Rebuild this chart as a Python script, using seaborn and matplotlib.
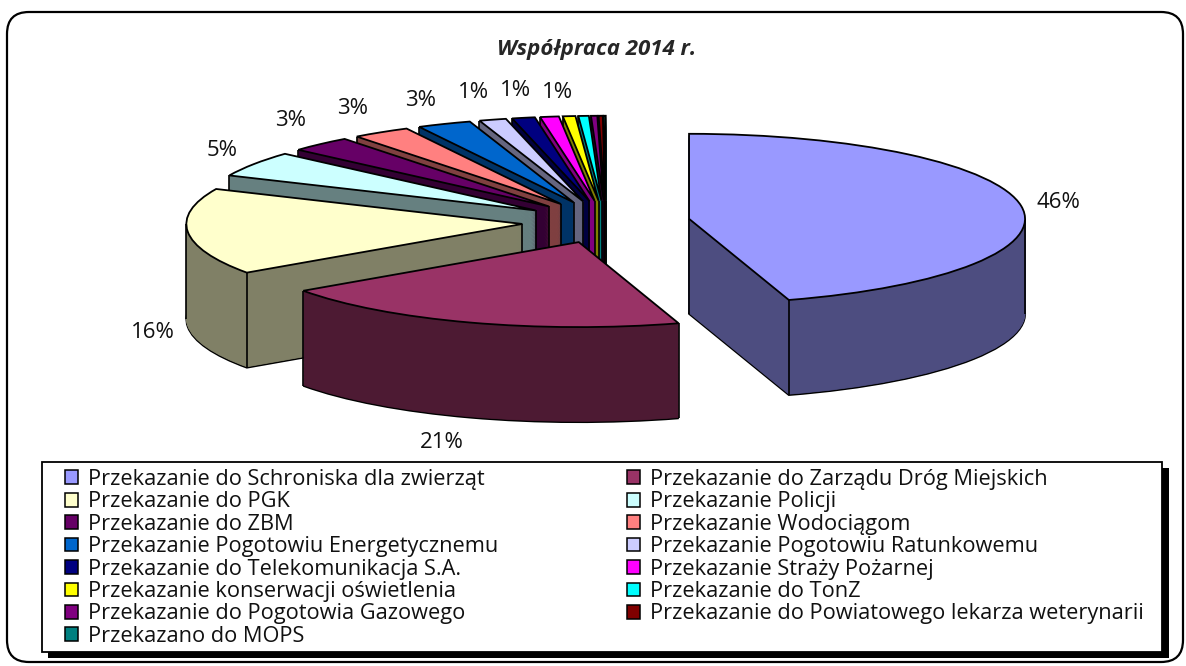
import numpy as np
import matplotlib
matplotlib.use("Agg")
import matplotlib.pyplot as plt
import seaborn as sns
from matplotlib.patches import FancyBboxPatch, Rectangle, Patch

categories = [
    "Przekazanie do Schroniska dla zwierząt", "Przekazanie do Zarządu Dróg Miejskich",
    "Przekazanie do PGK", "Przekazanie Policji",
    "Przekazanie do ZBM", "Przekazanie Wodociągom",
    "Przekazanie Pogotowiu Energetycznemu", "Przekazanie Pogotowiu Ratunkowemu",
    "Przekazanie do Telekomunikacja S.A.", "Przekazanie Straży Pożarnej",
    "Przekazanie konserwacji oświetlenia", "Przekazanie do TonZ",
    "Przekazanie do Pogotowia Gazowego", "Przekazanie do Powiatowego lekarza weterynarii",
    "Przekazano do MOPS",
]
values = [45.2, 20.1, 16.45, 4.85, 3.0, 2.8, 2.6, 1.3, 1.1, 0.9, 0.6, 0.5, 0.3, 0.2, 0.1]
top_colors = ["#9999FF", "#993366", "#FFFFCC", "#CCFFFF", "#660066", "#FF8080", "#0066CC", "#CCCCFF",
              "#000080", "#FF00FF", "#FFFF00", "#00FFFF", "#800080", "#800000", "#008080"]
side_colors = ["#4D4D80", "#4D1A33", "#808066", "#668080", "#330033", "#804040", "#003366", "#666680",
               "#000040", "#800080", "#808000", "#008080", "#400040", "#400000", "#004040"]
pct_labels = ["46%", "21%", "16%", "5%", "3%", "3%", "3%", "1%", "1%", "1%"]
title_text = "Współpraca 2014 r."

sns.set_style("white")
plt.rcParams["font.family"] = ["Open Sans", "DejaVu Sans"]

W, H = 1186, 666
fig = plt.figure(figsize=(W / 100, H / 100), dpi=100, facecolor="white")
ax = fig.add_axes([0, 0, 1, 1])
palette_top = sns.color_palette(top_colors)
palette_side = sns.color_palette(side_colors)

# pie geometry: screen radii in px, centre and extrusion
CX, CY, RX, RY, DEPTH_PX, EXPL = 606, 222, 336, 85, 95, 0.25
depth = DEPTH_PX / RY
n_layers = 120
explode = [EXPL] * len(values)
# painter's order: back wedges first, then third .. then first, second
order = list(range(len(values) - 1, 1, -1)) + [0, 1]
rank = {w: r for r, w in enumerate(order)}

for k in range(n_layers, 0, -1):
    wedges, _ = ax.pie(values, explode=explode, colors=palette_side, startangle=90, counterclock=False,
                       center=(0, -depth * k / n_layers), radius=1,
                       wedgeprops=dict(linewidth=1.4 if k == n_layers else 0.5))
    for i, w in enumerate(wedges):
        w.set_edgecolor("black" if k == n_layers else palette_side[i])
        w.set_zorder(rank[i] * 100 + 1 + (n_layers - k) * 0.4)

tops, _ = ax.pie(values, explode=explode, colors=palette_top, startangle=90, counterclock=False,
                 center=(0, 0), radius=1, wedgeprops=dict(linewidth=1.3, edgecolor="black"))
for i, w in enumerate(tops):
    w.set_zorder(rank[i] * 100 + 60)
    x0, y0 = w.center
    t1, t2 = w.theta1, w.theta2     # t2 = clockwise start, t1 = clockwise end
    # the tip edge is hidden under the wedge's own top when it holds six o'clock
    drops = [] if t1 < -90 < t2 else [(x0, y0)]
    for t, is_start in ((t2, True), (t1, False)):
        a = np.deg2rad(t)
        px, py = x0 + np.cos(a), y0 + np.sin(a)
        left = np.cos(a) < 0
        if np.sin(a) < 0 or (is_start and left):
            drops.append((px, py))
    for ext in (-360, -180, 0):
        if t1 < ext < t2:
            a = np.deg2rad(ext)
            drops.append((x0 + np.cos(a), y0 + np.sin(a)))
    for px, py in drops:
        ax.plot([px, px], [py, py - depth], color="black", lw=1.2, zorder=rank[i] * 100 + 55,
                solid_capstyle="butt")

ax.set_aspect("auto")
ax.set_xlim(-CX / RX, (W - CX) / RX)
ax.set_ylim((CY - H) / RY, CY / RY)
ax.set_position([0, 0, 1, 1])
ax.axis("off")

# pixel-space overlay for frame, title, labels and legend
ov = fig.add_axes([0, 0, 1, 1], facecolor="none", zorder=5)
ov.set_xlim(0, W)
ov.set_ylim(H, 0)
ov.axis("off")

r = 22
ov.add_patch(FancyBboxPatch((7 + r, 12 + r), 1176 - 2 * r, 650 - 2 * r,
                            boxstyle=f"round,pad={r},rounding_size={r}",
                            fc="none", ec="black", lw=1.6, clip_on=False))
ov.text(597, 50, title_text, ha="center", va="center", fontsize=16, fontweight="bold", fontstyle="italic")

label_px = [(1058, 203), (442, 442), (153, 333), (222, 151), (291, 121),
            (353, 109), (421, 101), (473, 93), (515, 91), (558, 93)]
for (lx, ly), s in zip(label_px, pct_labels):
    ov.text(lx, ly, s, ha="center", va="center", fontsize=16, color="#111111")

ov.add_patch(Rectangle((48, 468), 1121, 190, fc="black", ec="black", lw=0))
ov.add_patch(Rectangle((42, 462), 1120, 190, fc="white", ec="black", lw=1.3))

idx = list(range(0, len(categories), 2)) + list(range(1, len(categories), 2))
handles = [Patch(facecolor=palette_top[i], edgecolor="black", linewidth=1.1) for i in idx]
labels = [categories[i] for i in idx]
ov.legend(handles, labels, ncols=2, loc="upper left", bbox_to_anchor=(65, 469), bbox_transform=ov.transData,
          frameon=False, fontsize=15.65, borderpad=0, borderaxespad=0, labelspacing=0.065,
          handlelength=0.6, handleheight=0.6, handletextpad=0.46, columnspacing=5.9, labelcolor="#111111")

fig.savefig("out.png", dpi=100, facecolor="white")
